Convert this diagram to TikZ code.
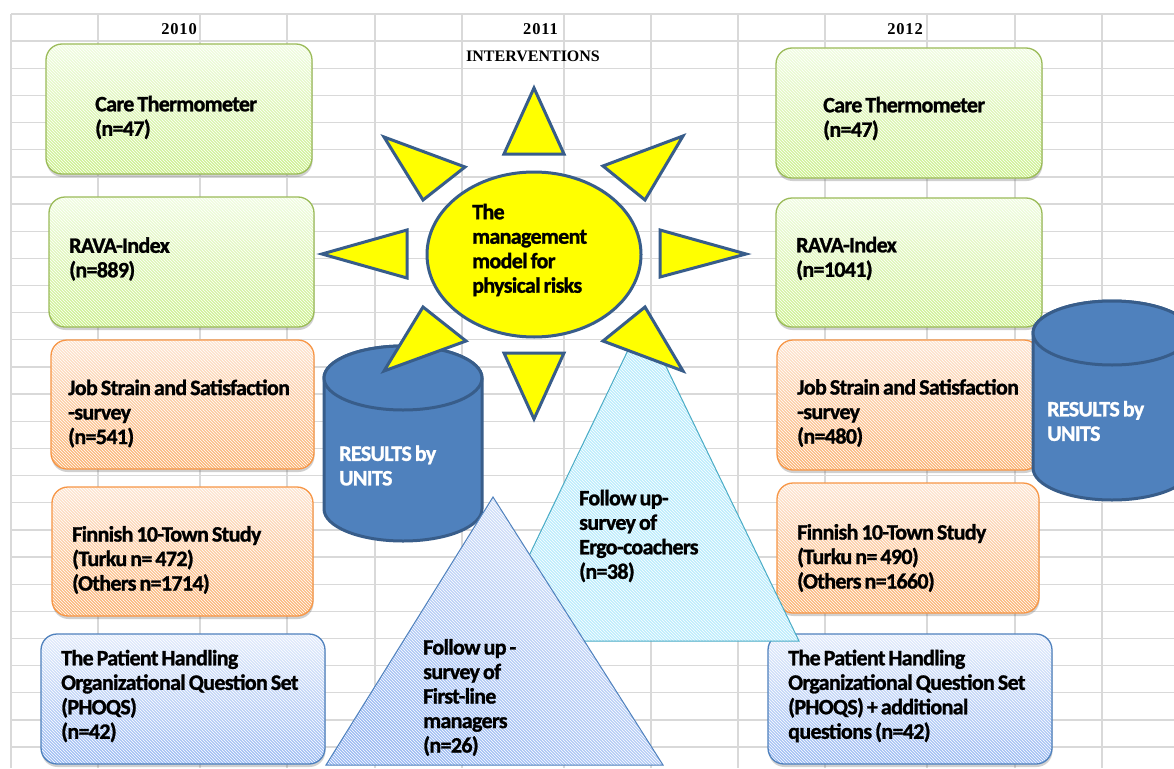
\documentclass[tikz,border=0pt]{standalone}
\usepackage{fontspec}
\setmainfont{Carlito}
\newfontfamily\boxfam[LetterSpace=-3,WordSpace=0.7,BoldFeatures={FakeBold=1.2}]{Carlito}
\newfontfamily\headfam{Liberation Serif}
\newfontfamily\yearfam[LetterSpace=5]{Liberation Serif}
\usetikzlibrary{shadows,patterns,shapes.geometric}

\definecolor{gridgray}{HTML}{D9D9D9}
\definecolor{gLight}{HTML}{F1FCE2}
\definecolor{gMid}{HTML}{DFF5BA}
\definecolor{gDark}{HTML}{CCF08E}
\definecolor{gLine}{HTML}{9BBB59}
\definecolor{oLight}{HTML}{FDE6D4}
\definecolor{oMid}{HTML}{FCC899}
\definecolor{oDark}{HTML}{FBB474}
\definecolor{oLine}{HTML}{F79646}
\definecolor{bLight}{HTML}{E3ECFB}
\definecolor{bMid}{HTML}{C2D4F6}
\definecolor{bDark}{HTML}{9DBCF3}
\definecolor{bLine}{HTML}{4F81BD}
\definecolor{cylFill}{HTML}{4F81BD}
\definecolor{darkLine}{HTML}{385D8A}
\definecolor{sunYellow}{HTML}{FFFF00}
\definecolor{cyanFill}{HTML}{BDEDFC}
\definecolor{cyanLine}{HTML}{4BACC6}

\newcommand{\boxfont}{\boxfam\bfseries\fontsize{22}{24.5}\selectfont}

\tikzset{
  hatch/.style={postaction={fill opacity=0.3, pattern=north west lines, pattern color=white}},
  card/.style={rectangle, rounded corners=16pt, inner sep=0pt,
    shading angle=-45,
    drop shadow={shadow xshift=0.5pt, shadow yshift=-3pt, opacity=0.3, fill=black!60},
    hatch, postaction={draw=#1, line width=1.3pt}},
  greencard/.style={card=gLine, bottom color=gDark, middle color=gMid, top color=gLight},
  orangecard/.style={card=oLine, bottom color=oDark, middle color=oMid, top color=oLight},
  bluecard/.style={card=bLine, bottom color=bDark, middle color=bMid, top color=bLight},
  txt/.style={anchor=west, align=left, inner sep=0pt, font=\boxfont, text=black},
  wtxt/.style={txt, text=white},
  head/.style={inner sep=0pt, font=\headfam\bfseries\fontsize{16}{16}\selectfont},
  year/.style={inner sep=0pt, anchor=east, font=\yearfam\bfseries\fontsize{16.5}{16}\selectfont},
  ray/.style={fill=sunYellow, draw=darkLine, line width=3pt},
  cyl/.style={fill=cylFill, draw=darkLine, line width=3pt},
}

\begin{document}
\begin{tikzpicture}[x=1pt,y=-1pt]
\useasboundingbox (0,0) rectangle (1174,768);
\clip (0,0) rectangle (1174,768);
\fill[white] (0,0) rectangle (1174,768);

% spreadsheet grid
\foreach \gx in {11,98,200,287,375,462,564,651,738,825,927,1015,1102}
  \draw[gridgray, line width=1.3pt] (\gx,14) -- (\gx,768);
\foreach \k in {0,...,28}
  \draw[gridgray, line width=1.3pt] (11,14+27.15*\k) -- (1174,14+27.15*\k);

% column headings
\node[year] (h2010) at (197,29) {2010};
\node[year] (h2011) at (558,29) {2011};
\node[head, anchor=west] (hint) at (466,56) {INTERVENTIONS};
\node[year] (h2012) at (923,29) {2012};

% 2010 column
\node[greencard, minimum width=266pt, minimum height=130pt] (l1) at (179,109) {};
\node[greencard, minimum width=265pt, minimum height=130pt] (l2) at (181.5,262) {};
\node[orangecard, minimum width=263pt, minimum height=129pt] (l3) at (182.5,404.5) {};
\node[orangecard, minimum width=261pt, minimum height=129pt] (l4) at (182.5,551.5) {};
\node[bluecard, minimum width=284pt, minimum height=130pt] (l5) at (183,699) {};

% 2012 column
\node[greencard, minimum width=266pt, minimum height=130pt] (r1) at (909,113) {};
\node[greencard, minimum width=266pt, minimum height=129pt] (r2) at (909,262.5) {};
\node[orangecard, minimum width=263pt, minimum height=130pt] (r3) at (908.5,405) {};
\node[orangecard, minimum width=262pt, minimum height=130pt] (r4) at (908,548) {};
\node[bluecard, minimum width=284pt, minimum height=130pt] (r5) at (910,699) {};

% result cylinders
\path[cyl] (324,378) -- (324,509) arc[start angle=180, end angle=0, x radius=79, y radius=32]
  -- (482,378) arc[start angle=0, end angle=-180, x radius=79, y radius=32] -- cycle;
\path[cyl] (403,378) ellipse[x radius=79, y radius=32];
\path[cyl] (1033,333) -- (1033,468) arc[start angle=180, end angle=0, x radius=79, y radius=32]
  -- (1191,333) arc[start angle=0, end angle=-180, x radius=79, y radius=32] -- cycle;
\path[cyl] (1112,333) ellipse[x radius=79, y radius=32];

% follow-up triangles
\path[fill=cyanFill, hatch, postaction={draw=cyanLine, line width=1pt}]
  (643,319) -- (799,641) -- (488,641) -- cycle;
\path[bottom color=bDark, top color=bLight!70!bMid, shading angle=-30, hatch,
  postaction={draw=bLine, line width=1pt}]
  (493,497) -- (663,765) -- (326,765) -- cycle;

% sun
\node[ellipse, fill=sunYellow, draw=darkLine, line width=3pt,
  minimum width=214pt, minimum height=165pt, inner sep=0pt] (sun) at (534,254.5) {};
\path[ray] (534,88) -- (564,154) -- (504,154) -- cycle;
\path[ray] (384,137) -- (465,167) -- (423,200) -- cycle;
\path[ray] (683,136) -- (603,166) -- (645,200) -- cycle;
\path[ray] (322,254) -- (407,230) -- (407,278) -- cycle;
\path[ray] (746,254) -- (660,230) -- (660,277) -- cycle;
\path[ray] (423,307) -- (466,341) -- (384,371) -- cycle;
\path[ray] (645,307) -- (603,341) -- (683,371) -- cycle;
\path[ray] (504,353) -- (564,353) -- (534,419) -- cycle;

% texts
\node[txt] (tl1) at (95,117.5) {Care Thermometer\\(n=47)};
\node[txt] (tl2) at (69,259) {RAVA-Index\\(n=889)};
\node[txt] (tl3) at (68,413.5) {Job Strain and Satisfaction\\-survey\\(n=541)};
\node[txt] (tl4) at (72,560) {Finnish 10-Town Study\\(Turku n= 472)\\(Others n=1714)};
\node[txt] (tl5) at (61,696) {The Patient Handling\\Organizational Question Set\\(PHOQS)\\(n=42)};

\node[txt] (tr1) at (823,118.5) {Care Thermometer\\(n=47)};
\node[txt] (tr2) at (796,258.5) {RAVA-Index\\(n=1041)};
\node[txt] (tr3) at (797,413) {Job Strain and Satisfaction\\-survey\\(n=480)};
\node[txt] (tr4) at (797,558) {Finnish 10-Town Study\\(Turku n= 490)\\(Others n=1660)};
\node[txt] (tr5) at (788,696) {The Patient Handling\\Organizational Question Set\\(PHOQS) + additional\\questions (n=42)};

\node[txt] (tsun) at (472,250) {The\\management\\model for\\physical risks};
\node[txt] (tcyan) at (579,536) {Follow up-\\survey of\\Ergo-coachers\\(n=38)};
\node[txt] (tblue) at (423,697.5) {Follow up -\\survey of\\First-line\\managers\\(n=26)};

\node[wtxt] (tcl) at (339,465.5) {RESULTS by\\UNITS};
\node[wtxt] (tcr) at (1047,421) {RESULTS by\\UNITS};
\end{tikzpicture}
\end{document}
